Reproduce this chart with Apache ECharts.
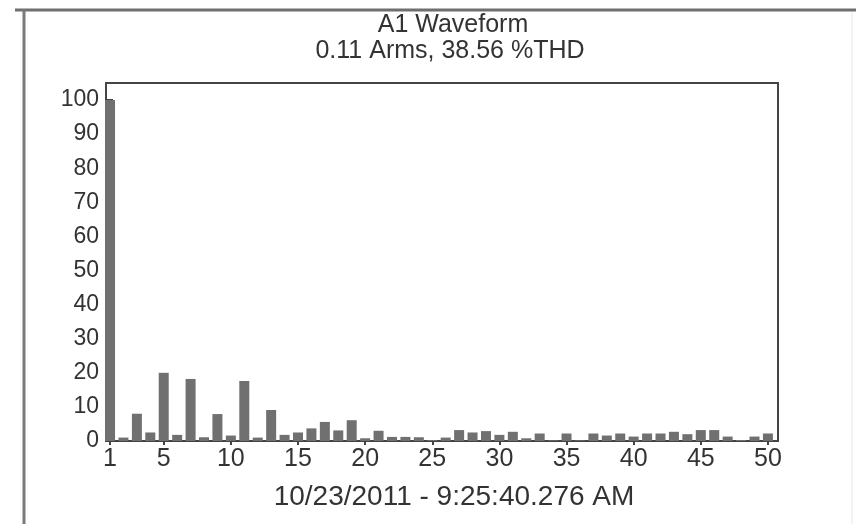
<!DOCTYPE html>
<html>
<head>
<meta charset="utf-8">
<script src="https://cdn.jsdelivr.net/npm/echarts@6/dist/echarts.min.js"></script>
<style>
html,body{margin:0;padding:0;background:#fff;}
#chart{width:856px;height:524px;}
</style>
</head>
<body>
<div id="chart"></div>
<script>
const titleLine1 = "A1 Waveform";
const titleLine2 = "0.11 Arms, 38.56 %THD";
const timestampLabel = "10/23/2011 - 9:25:40.276 AM";

const harmonics = [1,2,3,4,5,6,7,8,9,10,11,12,13,14,15,16,17,18,19,20,21,22,23,24,25,26,27,28,29,30,31,32,33,34,35,36,37,38,39,40,41,42,43,44,45,46,47,48,49,50];
const magnitudes = [100,1.0,8.0,2.5,20.0,1.8,18.2,1.1,7.9,1.6,17.6,1.0,9.1,1.8,2.5,3.7,5.6,3.1,6.1,0.8,3.0,1.2,1.2,1.1,0.3,1.0,3.2,2.5,2.9,1.8,2.7,0.8,2.2,0.2,2.2,0.2,2.2,1.6,2.2,1.3,2.2,2.2,2.7,2.0,3.2,3.2,1.3,0.3,1.3,2.2];
const xTickValues = [1,5,10,15,20,25,30,35,40,45,50];
const yTickValues = [0,10,20,30,40,50,60,70,80,90,100];

const chart = echarts.init(document.getElementById('chart'), null, {renderer:'canvas'});
const font = 'Liberation Sans, Arial, sans-serif';
const seriesData = harmonics.map((h,i)=>[h, magnitudes[i]]);

chart.setOption({
  animation:false,
  backgroundColor:'#fff',
  title:[
    {text:titleLine1, left:448, top:8, textAlign:'center',
     textStyle:{fontFamily:font, fontSize:25, lineHeight:25, fontWeight:'normal', color:'#333'}},
    {text:titleLine2, left:445, top:34, textAlign:'center',
     textStyle:{fontFamily:font, fontSize:25, lineHeight:25, fontWeight:'normal', color:'#333'}},
    {text:timestampLabel, left:449, top:478, textAlign:'center',
     textStyle:{fontFamily:font, fontSize:28, lineHeight:28, fontWeight:'normal', color:'#333'}}
  ],
  graphic:[
    {type:'line', shape:{x1:15,y1:10,x2:856,y2:10}, style:{stroke:'#6f6f6f', lineWidth:3}},
    {type:'line', shape:{x1:24,y1:10,x2:24,y2:524}, style:{stroke:'#7a7a7a', lineWidth:3}},
    {type:'line', shape:{x1:852,y1:12,x2:852,y2:524}, style:{stroke:'#e6e6e6', lineWidth:1}}
  ],
  grid:{left:106, right:78, top:83, bottom:83, show:true, borderColor:'#444', borderWidth:2, backgroundColor:'#fff'},
  xAxis:{
    type:'value', min:0.7, max:50.75,
    splitLine:{show:false},
    axisLine:{show:true, onZero:false, lineStyle:{color:'#444', width:2}},
    axisTick:{show:true, inside:false, length:4, customValues:xTickValues, lineStyle:{color:'#444', width:2}},
    axisLabel:{customValues:xTickValues, fontFamily:font, fontSize:25, color:'#333', margin:6}
  },
  yAxis:{
    type:'value', min:0, max:105,
    splitLine:{show:false},
    axisLine:{show:true, lineStyle:{color:'#444', width:2}},
    axisTick:{show:true, inside:true, length:7, customValues:yTickValues, lineStyle:{color:'#444', width:2}},
    axisLabel:{customValues:yTickValues, fontFamily:font, fontSize:23, color:'#333', margin:7}
  },
  series:[{
    type:'bar',
    data:seriesData,
    barWidth:10,
    itemStyle:{color:'#707070'},
    clip:true
  }]
});
</script>
</body>
</html>
